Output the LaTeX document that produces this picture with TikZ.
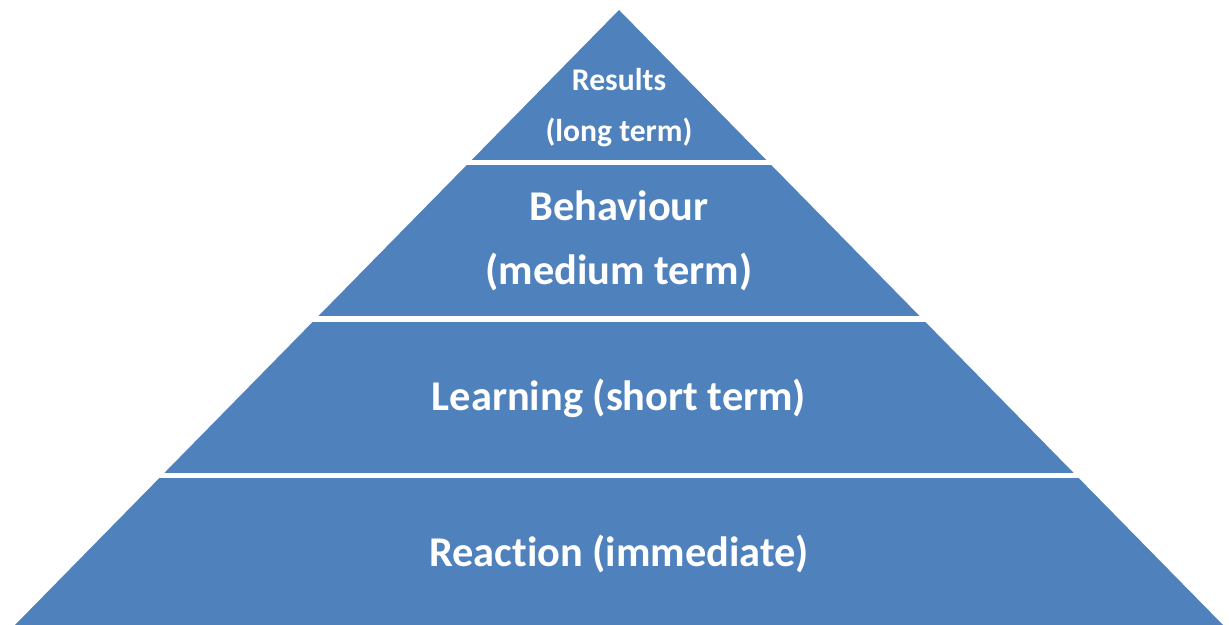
\documentclass[tikz,border=0pt]{standalone}
\usepackage{fontspec}
\setmainfont[RawFeature={-liga}]{Carlito}
\definecolor{levelblue}{HTML}{4F81BD}

\begin{document}
\begin{tikzpicture}[x=0.5pt, y=-0.5pt,
    level/.style={fill=levelblue},
    gap/.style={fill=white},
    caption/.style={text=white, font=\bfseries, align=center, inner sep=0pt}]
\useasboundingbox (0,0) rectangle (1229,625);

% pyramid
\coordinate (apex) at (619,10);
\coordinate (bl) at (15,625);
\coordinate (br) at (1223,625);
\fill[level] (apex) -- (br) -- (bl) -- cycle;

% white gaps between levels
\fill[gap] (0,160) rectangle (1229,165);
\fill[gap] (0,316) rectangle (1229,322);
\fill[gap] (0,473) rectangle (1229,478);

% level labels
\node[caption, font=\bfseries\fontsize{15.8}{25.5}\selectfont] (results) at (619,108) {Results\\(long term)};
\node[caption, font=\bfseries\fontsize{21.2}{32}\selectfont] (behaviour) at (619,241) {Behaviour\\(medium term)};
\node[caption, font=\bfseries\fontsize{21.2}{32}\selectfont] (learning) at (619,398) {Learning (short term)};
\node[caption, font=\bfseries\fontsize{21.2}{32}\selectfont] (reaction) at (619,554) {Reaction (immediate)};
\end{tikzpicture}
\end{document}
